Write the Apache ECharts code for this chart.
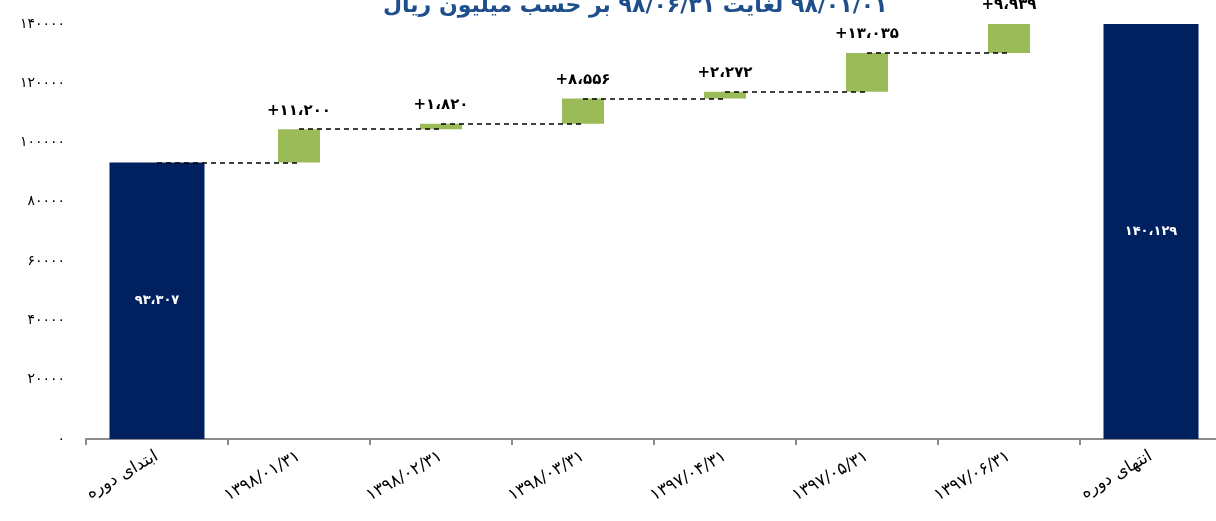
<!DOCTYPE html>
<html>
<head>
<meta charset="utf-8">
<script src="https://cdn.jsdelivr.net/npm/echarts@6/dist/echarts.min.js"></script>
<style>
html,body{margin:0;padding:0;background:#fff;overflow:hidden;}
#chart{width:1222px;height:521px;}
</style>
</head>
<body>
<div id="chart"></div>
<script>
const categories = ['ابتدای دوره','۱۳۹۸/۰۱/۳۱','۱۳۹۸/۰۲/۳۱','۱۳۹۸/۰۳/۳۱','۱۳۹۷/۰۴/۳۱','۱۳۹۷/۰۵/۳۱','۱۳۹۷/۰۶/۳۱','انتهای دوره'];
const startValue = 93307;
const changes = [11200, 1820, 8556, 2272, 13035, 9939];
const endValue = 140129;
const titleText = '\u200F۹۸/۰۱/۰۱ لغایت ۹۸/۰۶/۳۱ بر حسب میلیون ریال\u200F';

const faDigits = '۰۱۲۳۴۵۶۷۸۹';
function toFa(s){ return String(s).replace(/[0-9]/g, d => faDigits[+d]); }
function fmtFa(n){ return toFa(String(n).replace(/\B(?=(\d{3})+(?!\d))/g, '،')); }

// cumulative levels
const levels = [startValue];
changes.forEach(c => levels.push(levels[levels.length-1] + c));

const navyData = categories.map((c,i) => i === 0 ? startValue : (i === categories.length-1 ? endValue : '-'));
const baseData = categories.map((c,i) => (i>0 && i<categories.length-1) ? levels[i-1] : '-');
const greenData = categories.map((c,i) => (i>0 && i<categories.length-1) ? changes[i-1] : '-');

const lineSegs = [];
for (let i = 0; i < categories.length-1; i++) {
  lineSegs.push([{coord:[i, levels[i]]},{coord:[i+1, levels[i]]}]);
}

const chart = echarts.init(document.getElementById('chart'));
chart.setOption({
  animation:false,
  textStyle:{fontFamily:'DejaVu Sans, Noto Sans, sans-serif'},
  title:{
    text:titleText, left:378, top:-10,
    textStyle:{color:'#1F4E8C', fontSize:22, fontWeight:'bold', fontFamily:'DejaVu Sans, sans-serif'}
  },
  grid:{left:86, top:24, right:0, bottom:82, containLabel:false},
  xAxis:[{
    type:'category', data:categories, gridIndex:0,
    axisLine:{lineStyle:{color:'#8c8c8c', width:2}},
    axisTick:{show:true, alignWithLabel:false, length:6, lineStyle:{color:'#8c8c8c', width:2}},
    axisLabel:{rotate:30, color:'#000', fontSize:17, margin:16, interval:0}
  },{
    type:'category', data:categories, gridIndex:0, show:false
  }],
  yAxis:{
    type:'value', min:0, max:140000, interval:20000,
    axisLine:{show:false}, axisTick:{show:false}, splitLine:{show:false},
    axisLabel:{color:'#000', fontSize:14, margin:21, formatter:v => toFa(v)}
  },
  series:[
    {
      name:'base', type:'bar', stack:'w', xAxisIndex:0, barWidth:42,
      itemStyle:{color:'transparent'}, data:baseData, silent:true,
      markLine:{
        symbol:'none', silent:true, label:{show:false},
        lineStyle:{color:'#000', type:[5,4], width:1.5},
        data:lineSegs
      }
    },
    {
      name:'change', type:'bar', stack:'w', xAxisIndex:0, barWidth:42,
      itemStyle:{color:'#9BBB59'}, data:greenData,
      label:{show:true, position:'top', distance:11, color:'#000', fontSize:15, fontWeight:'bold',
        formatter:p => '+' + fmtFa(p.value)}
    },
    {
      name:'total', type:'bar', xAxisIndex:1, barWidth:95,
      itemStyle:{color:'#002060'}, data:navyData,
      label:{show:true, position:'inside', color:'#fff', fontSize:13, fontWeight:'bold',
        formatter:p => fmtFa(p.value)}
    }
  ]
});
</script>
</body>
</html>
